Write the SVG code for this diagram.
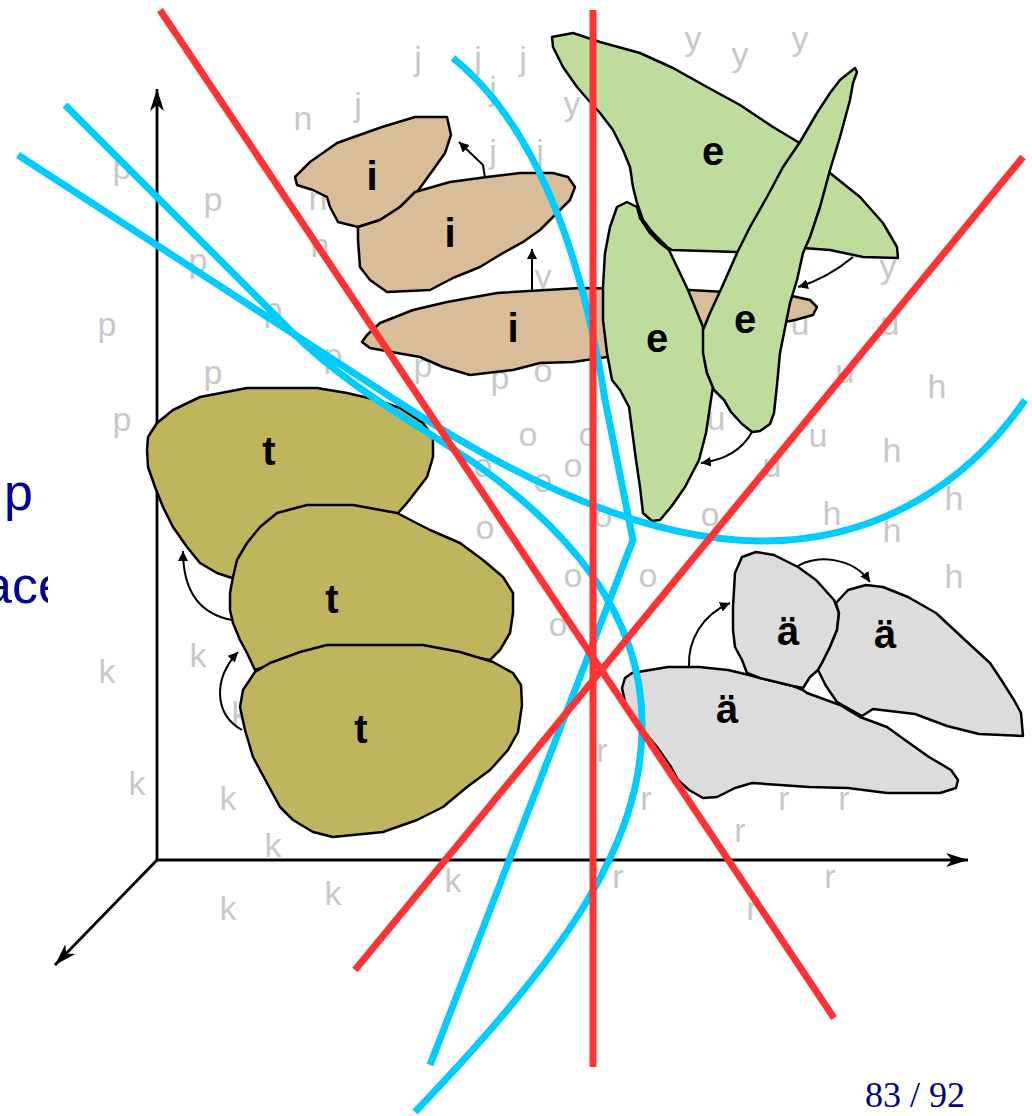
<svg xmlns="http://www.w3.org/2000/svg" width="1032" height="1116" viewBox="0 0 1032 1116">
<style>
.bg{font-family:"Liberation Sans",Arial,sans-serif;font-size:34px;fill:#c8c8c8;text-anchor:middle}
.lbl{font-family:"Liberation Sans",Arial,sans-serif;font-size:40px;font-weight:bold;fill:#000;text-anchor:middle}
.blob{stroke:#000;stroke-width:2.5;stroke-linejoin:round}
.tan{fill:#D9BC98}.grn{fill:#BEDD9C}.olv{fill:#BFB55C}.gry{fill:#DCDCDC}
.con{fill:none;stroke:#000;stroke-width:2}
.axis{fill:none;stroke:#000;stroke-width:2.8}
.red{fill:none;stroke:#FF3333;stroke-width:7}
.blu{fill:none;stroke:#00CCFF;stroke-width:7}
.nav{font-family:"Liberation Sans",Arial,sans-serif;font-size:52px;fill:#000099}
</style>
<defs>
<marker id="ah" markerWidth="12" markerHeight="10" refX="10" refY="5" orient="auto" markerUnits="userSpaceOnUse"><path d="M0,0 L10,5 L0,10 Z" fill="#000"/></marker>
<marker id="ax" markerWidth="24" markerHeight="16" refX="22" refY="8" orient="auto" markerUnits="userSpaceOnUse"><path d="M0,1 L22,8 L0,15 L6,8 Z" fill="#000"/></marker>
<clipPath id="cl"><rect x="0" y="540" width="48" height="80"/></clipPath>
</defs>
<rect width="1032" height="1116" fill="#fff"/>
<g id="side-text">
<text class="nav" x="4" y="510">p</text>
<text class="nav" x="-17" y="603" clip-path="url(#cl)">ace</text>
<text x="965" y="1107" text-anchor="end" style="font-family:'Liberation Serif','Times New Roman',serif;font-size:36px;fill:#000080">83 / 92</text>
</g>
<g id="samples">
<text class="bg" x="418" y="70">j</text><text class="bg" x="478" y="70">j</text><text class="bg" x="523" y="70">j</text>
<text class="bg" x="493" y="100">j</text><text class="bg" x="358" y="116">j</text><text class="bg" x="493" y="163">j</text><text class="bg" x="540" y="163">j</text>
<text class="bg" x="693" y="50">y</text><text class="bg" x="740" y="66">y</text><text class="bg" x="800" y="50">y</text>
<text class="bg" x="572" y="115">y</text><text class="bg" x="888" y="278">y</text><text class="bg" x="543" y="288">y</text>
<text class="bg" x="303" y="130">n</text><text class="bg" x="318" y="210">n</text><text class="bg" x="320" y="257">n</text>
<text class="bg" x="122" y="179">p</text><text class="bg" x="213" y="211">p</text><text class="bg" x="198" y="272">p</text>
<text class="bg" x="107" y="336">p</text><text class="bg" x="273" y="321">p</text><text class="bg" x="333" y="367">p</text>
<text class="bg" x="213" y="384">p</text><text class="bg" x="122" y="431">p</text><text class="bg" x="423" y="377">p</text><text class="bg" x="500" y="389">p</text>
<text class="bg" x="543" y="382">o</text><text class="bg" x="528" y="446">o</text><text class="bg" x="588" y="446">o</text>
<text class="bg" x="573" y="477">o</text><text class="bg" x="483" y="477">o</text><text class="bg" x="543" y="492">o</text>
<text class="bg" x="485" y="539">o</text><text class="bg" x="603" y="527">o</text><text class="bg" x="710" y="526">o</text>
<text class="bg" x="573" y="587">o</text><text class="bg" x="648" y="587">o</text><text class="bg" x="558" y="636">o</text>
<text class="bg" x="716" y="430">u</text><text class="bg" x="800" y="335">u</text><text class="bg" x="890" y="335">u</text>
<text class="bg" x="845" y="383">u</text><text class="bg" x="818" y="447">u</text><text class="bg" x="772" y="477">u</text>
<text class="bg" x="937" y="398">h</text><text class="bg" x="892" y="462">h</text><text class="bg" x="954" y="510">h</text>
<text class="bg" x="832" y="525">h</text><text class="bg" x="892" y="542">h</text><text class="bg" x="954" y="588">h</text>
<text class="bg" x="107" y="683">k</text><text class="bg" x="198" y="667">k</text><text class="bg" x="240" y="725">k</text>
<text class="bg" x="137" y="795">k</text><text class="bg" x="228" y="810">k</text><text class="bg" x="273" y="857">k</text>
<text class="bg" x="333" y="905">k</text><text class="bg" x="228" y="920">k</text><text class="bg" x="453" y="892">k</text>
<text class="bg" x="602" y="762">r</text><text class="bg" x="646" y="810">r</text><text class="bg" x="784" y="810">r</text>
<text class="bg" x="844" y="810">r</text><text class="bg" x="740" y="842">r</text><text class="bg" x="618" y="888">r</text>
<text class="bg" x="830" y="888">r</text><text class="bg" x="752" y="920">r</text>
</g>
<g id="axes">
<path class="axis" d="M157,860 L157,89" marker-end="url(#ax)"/>
<path class="axis" d="M157,860 L968,860" marker-end="url(#ax)"/>
<path class="axis" d="M157,860 L55,965" stroke-width="2.2" marker-end="url(#ax)"/>
</g>
<g id="t1"><path class="blob olv" d="M157,423 L173,410 200,397 247,388 317,388 347,393 377,400 400,408 423,423 433,437 433,457 427,477 417,490 407,503 398,513 360,525 260,565 232,578 217,573 200,563 187,547 173,527 163,507 155,487 148,467 147,450 148,437 Z"/><text class="lbl" x="269" y="465">t</text></g>
<g id="t2"><path class="blob olv" d="M233,577 L237,560 247,543 260,527 277,513 307,505 353,505 397,513 430,530 460,543 483,560 503,577 513,593 513,613 510,633 500,650 490,660 460,655 300,655 255,670 247,653 240,640 233,623 230,610 230,593 Z"/><text class="lbl" x="332" y="613">t</text></g>
<g id="t3"><path class="blob olv" d="M255,672 L270,663 300,652 327,645 423,645 460,652 493,662 513,673 521,685 522,705 518,732 508,750 490,770 467,787 443,807 417,820 383,832 333,837 313,832 293,820 280,807 267,783 253,757 245,730 240,707 243,690 Z"/><text class="lbl" x="361" y="743">t</text></g>
<g id="i1"><path class="blob tan" d="M295,177 L310,162 337,143 382,127 415,117 447,117 451,135 445,153 433,170 417,192 400,207 380,220 358,227 338,222 330,207 327,197 313,190 297,185 Z"/><text class="lbl" x="372" y="190">i</text></g>
<g id="i2"><path class="blob tan" d="M415,192 L450,182 487,177 520,173 553,173 568,177 575,187 570,200 557,213 540,230 523,242 503,253 480,267 453,278 430,290 387,292 370,280 360,267 358,240 358,227 380,220 400,207 Z"/><text class="lbl" x="450" y="247">i</text></g>
<g id="i3"><path class="blob tan" d="M367,335 L380,323 413,310 447,302 497,293 580,288 690,290 725,292 760,292 792,296 810,300 817,307 813,315 795,320 770,325 740,332 700,345 640,355 607,357 573,362 540,363 513,370 470,375 443,367 420,357 397,353 370,348 362,342 Z"/><text class="lbl" x="513" y="342">i</text></g>
<g id="e2"><path class="blob grn" d="M627,202 L617,207 610,227 605,253 603,287 603,320 607,353 612,380 620,390 629,407 636,460 640,487 643,513 652,521 660,520 671,507 685,487 699,460 706,433 712,393 713,387 707,373 705,363 703,327 688,290 669,250 660,243 650,233 640,218 637,207 Z"/><text class="lbl" x="657" y="352">e</text></g>
<g id="e1"><path class="blob grn" d="M552,37 L573,33 600,42 640,53 673,68 707,87 740,105 773,127 798,142 830,173 860,197 883,223 897,247 898,258 863,257 830,250 803,248 737,252 672,250 667,247 653,233 643,220 637,203 633,187 630,167 623,150 613,130 600,113 590,102 577,87 563,67 553,47 Z"/><text class="lbl" x="713" y="165">e</text></g>
<g id="e3"><path class="blob grn" d="M855,68 L840,80 830,93 817,113 800,142 783,167 767,197 750,227 737,253 722,287 710,313 703,330 703,353 707,373 714,390 724,400 731,412 742,424 752,432 760,431 770,424 774,413 777,385 780,353 790,303 797,280 803,253 810,237 820,207 830,170 840,137 850,100 853,83 857,72 Z"/><text class="lbl" x="745" y="333">e</text></g>
<g id="a3"><path class="blob gry" d="M622,688 L625,678 632,673 668,667 699,667 728,670 749,675 760,678 793,686 803,690 807,693 840,705 860,717 887,727 905,740 929,757 951,770 958,780 956,788 940,793 887,793 848,788 809,787 752,783 735,788 717,797 703,798 689,790 678,780 671,767 657,747 643,730 632,717 625,702 Z"/><text class="lbl" x="727" y="723">ä</text></g>
<g id="a1"><path class="blob gry" d="M735,573 L742,557 756,552 774,555 798,567 816,580 834,600 839,613 837,630 830,647 822,663 818,670 810,677 803,688 793,686 760,678 747,673 742,660 735,647 733,630 733,607 Z"/><text class="lbl" x="788" y="645">ä</text></g>
<g id="a2"><path class="blob gry" d="M836,603 L848,590 866,585 883,587 908,597 936,613 965,640 990,663 1000,678 1014,700 1021,713 1023,736 979,734 947,726 915,714 873,709 862,716 837,702 826,686 818,670 822,663 830,647 837,630 839,613 Z"/><text class="lbl" x="885" y="648">ä</text></g>
<g id="connectors">
<path class="con" d="M485,178 L483,165 L459,142" marker-end="url(#ah)"/>
<path class="con" d="M532,290 L532,249" marker-end="url(#ah)"/>
<path class="con" d="M853,257 C 835,272 815,282 798,287" marker-end="url(#ah)"/>
<path class="con" d="M752,432 C 742,450 725,460 701,463" marker-end="url(#ah)"/>
<path class="con" d="M232,620 C 205,615 183,598 183,551" marker-end="url(#ah)"/>
<path class="con" d="M242,730 C 215,715 212,680 238,652" marker-end="url(#ah)"/>
<path class="con" d="M689,666 C 688,640 702,615 730,603" marker-end="url(#ah)"/>
<path class="con" d="M798,566 C 815,555 852,556 870,582" marker-end="url(#ah)"/>
</g>
<g id="boundaries">
<path class="blu" d="M453,58 C 530,120 580,240 605,400 L633,540 L430,1065"/>
<path class="blu" d="M65,105 L290,330 C 350,390 420,425 480,467 C 560,525 645,610 642,730 C 640,850 560,960 415,1112"/>
<path class="blu" d="M18,155 L400,403 C 510,475 640,540 760,541 C 880,542 970,480 1025,400"/>
<path class="red" d="M160,10 L834,1018"/>
<path class="red" d="M593,10 L593,1067"/>
<path class="red" d="M355,970 L1023,157"/>
</g>
</svg>
